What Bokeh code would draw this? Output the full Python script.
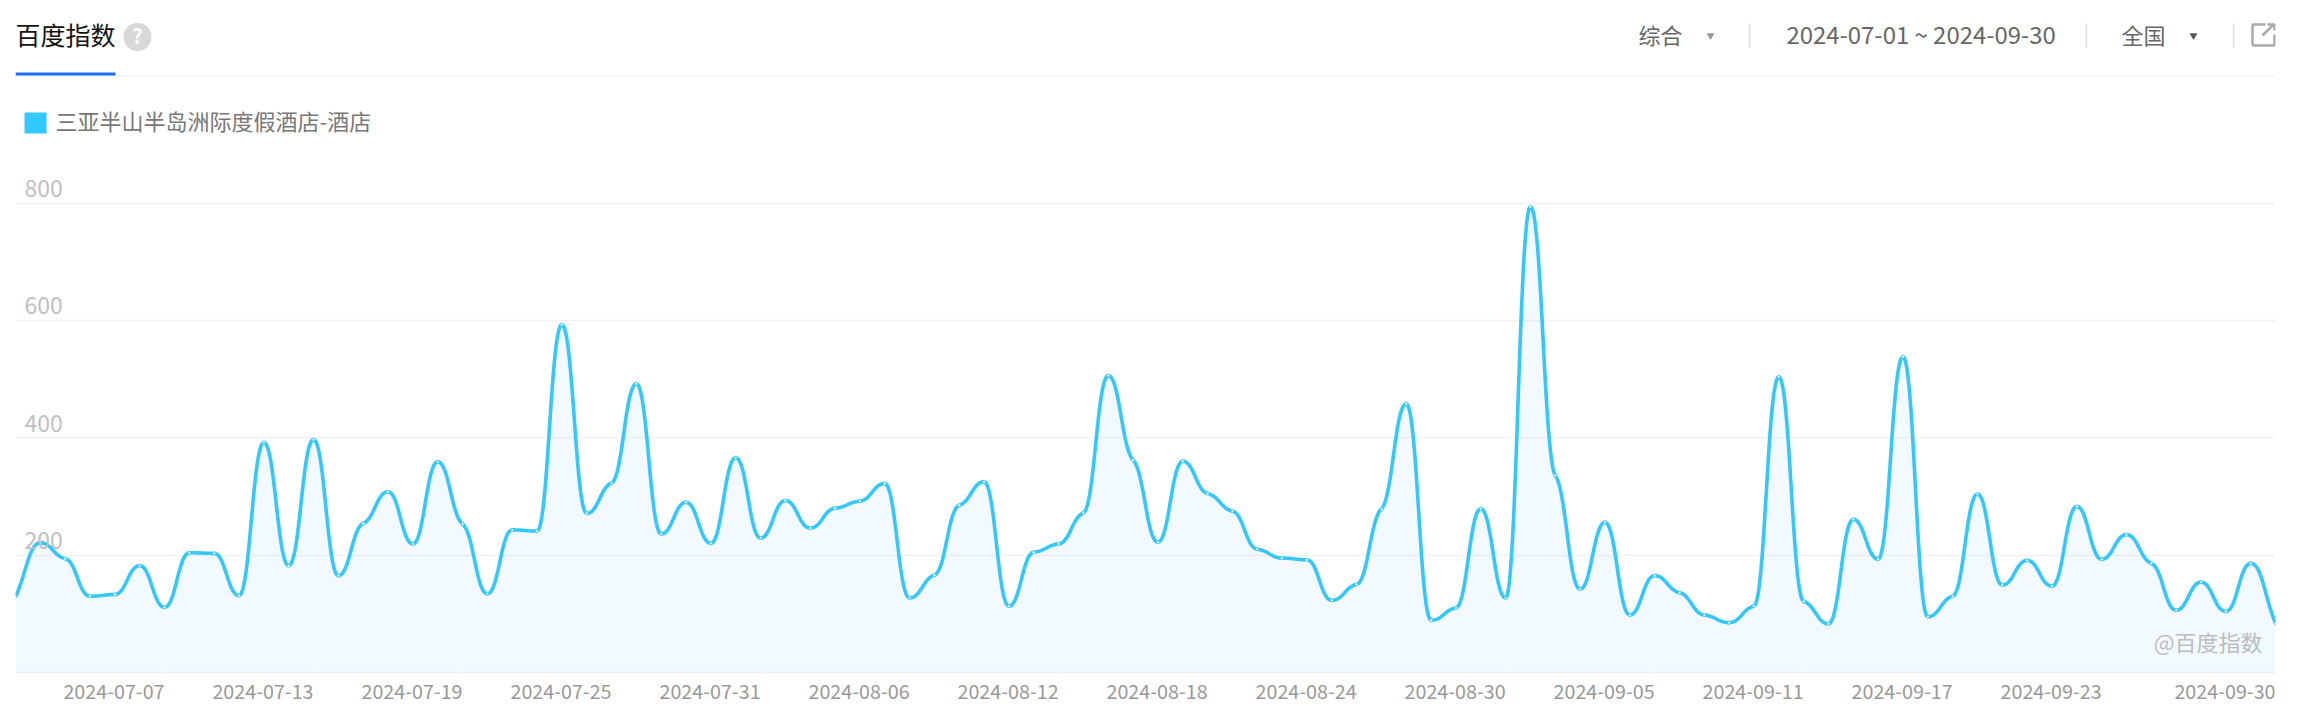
from bokeh.plotting import figure
from bokeh.models import Range1d, FixedTicker, Grid
from bokeh.core.properties import value
from bokeh.embed import file_html
from bokeh.resources import INLINE

title = "百度指数"
legend_label = "三亚半山半岛洲际度假酒店-酒店"
watermark = "@百度指数"
date_span = "2024-07-01 ~ 2024-09-30"
menu_kind = "综合"
menu_area = "全国"

y_ticks = [200, 400, 600, 800]
x_tick_idx = [6, 12, 18, 24, 30, 36, 42, 48, 54, 60, 66, 72, 78, 84, 91]
x_tick_labels = ["2024-07-07", "2024-07-13", "2024-07-19", "2024-07-25", "2024-07-31",
                 "2024-08-06", "2024-08-12", "2024-08-18", "2024-08-24", "2024-08-30",
                 "2024-09-05", "2024-09-11", "2024-09-17", "2024-09-23", "2024-09-30"]

values = [129, 221, 194, 130, 133, 182, 111, 204, 203, 131, 392, 182, 397, 165, 254, 308,
          219, 359, 253, 134, 243, 241, 593, 271, 323, 492, 236, 290, 220, 366, 229, 293,
          246, 280, 292, 322, 127, 166, 285, 325, 113, 205, 219, 272, 506, 362, 222, 360,
          305, 275, 210, 195, 192, 123, 150, 279, 458, 89, 110, 279, 127, 794, 336, 142,
          256, 98, 165, 136, 98, 85, 113, 504, 121, 83, 261, 193, 538, 95, 130, 304,
          149, 191, 147, 283, 193, 235, 186, 106, 154, 104, 186, 84]

LINE = "#36c7f9"
FONT = value("Noto Sans CJK SC")

# page-pixel geometry of the plot
W, H = 2297, 713
PAGE_L, PAGE_R, PAGE_T, PAGE_B = 15, 2275, 0, H
ZERO_Y, TOP_Y = 672, 202.5
per_px = 800 / (ZERO_Y - TOP_Y)
n = len(values) - 1

def X(px):
    return (px - PAGE_L) * n / (PAGE_R - PAGE_L)

def Y(py):
    return (ZERO_Y - py) * per_px

def smooth(ys, handle=0.45, flat=0.3, steps=24):
    """Monotone cubic through the points, sampled for drawing."""
    sl = [ys[i + 1] - ys[i] for i in range(len(ys) - 1)]
    m = [0.0] * len(ys)
    for i in range(1, len(ys) - 1):
        a, b = sl[i - 1], sl[i]
        if a * b > 0:
            s = 1 if a > 0 else -1
            m[i] = s * flat * min(abs(a), abs(b))
    m[0] = sl[0]
    m[-1] = sl[-1]
    xs_out, ys_out = [], []
    for i in range(len(ys) - 1):
        p0x, p0y = i, ys[i]
        p3x, p3y = i + 1, ys[i + 1]
        p1x, p1y = i + handle, ys[i] + m[i] * handle
        p2x, p2y = i + 1 - handle, ys[i + 1] - m[i + 1] * handle
        for k in range(steps):
            t = k / steps
            u = 1 - t
            xs_out.append(u**3 * p0x + 3 * u*u*t * p1x + 3 * u*t*t * p2x + t**3 * p3x)
            ys_out.append(u**3 * p0y + 3 * u*u*t * p1y + 3 * u*t*t * p2y + t**3 * p3y)
    xs_out.append(n)
    ys_out.append(ys[-1])
    return xs_out, ys_out

p = figure(width=W, height=H, output_backend="svg", toolbar_location=None,
           x_range=Range1d(0, n), y_range=Range1d(Y(PAGE_B), Y(PAGE_T)),
           min_border_left=PAGE_L, min_border_right=W - PAGE_R,
           min_border_top=0, min_border_bottom=0, x_axis_type=None, y_axis_type=None)
p.outline_line_color = None
p.background_fill_color = "#ffffff"
p.xgrid.visible = False
p.ygrid.visible = False

grid = Grid(dimension=1, ticker=FixedTicker(ticks=[0] + y_ticks),
            grid_line_color="#f2f2f2", grid_line_width=1.5)
p.add_layout(grid)

sx, sy = smooth(values)
p.varea(x=sx, y1=[0] * len(sx), y2=sy, fill_color="#0a96ff", fill_alpha=0.055)
p.line(sx, sy, line_color=LINE, line_width=3.6)
p.scatter(list(range(len(values))), values, size=3, fill_color="#ffffff",
          line_color=LINE, line_width=0.8)

# notches on the base line
p.segment(x0=x_tick_idx, y0=[0] * len(x_tick_idx), x1=x_tick_idx,
          y1=[Y(ZERO_Y - 2.5)] * len(x_tick_idx), line_color="#ffffff", line_width=1.5)

# axis labels
p.text(x=x_tick_idx, y=[Y(691)] * len(x_tick_idx), text=x_tick_labels, text_align="right",
       text_baseline="middle", text_font=FONT, text_font_size="19.7px", text_color="#999999")
p.text(x=[X(24)] * len(y_ticks), y=[t + Y(ZERO_Y - 14.5) for t in y_ticks],
       text=[str(t) for t in y_ticks], text_align="left", text_baseline="middle",
       text_font=FONT, text_font_size="23px", text_color="#c0c0c0")

# watermark
p.text(x=[X(2262)], y=[Y(640)], text=[watermark], text_align="right", text_baseline="middle",
       text_font=FONT, text_font_size="22px", text_color="#bcbcbc")

# header
p.segment(x0=[X(PAGE_L)], y0=[Y(75.5)], x1=[X(PAGE_R)], y1=[Y(75.5)], line_color="#eeeeee", line_width=1)
p.quad(left=[X(15)], right=[X(115)], top=[Y(72)], bottom=[Y(75)], fill_color="#1f6ff2", line_color=None)
p.text(x=[X(15)], y=[Y(33.5)], text=[title], text_baseline="middle", text_font=FONT,
       text_font_size="25px", text_color="#111111")
p.scatter(x=[X(137)], y=[Y(36.5)], size=28, fill_color="#d8d8d8", line_color=None)
p.text(x=[X(137)], y=[Y(35)], text=["?"], text_align="center", text_baseline="middle",
       text_font=FONT, text_font_size="20px", text_font_style="bold", text_color="#ffffff")

p.text(x=[X(1638), X(2121)], y=[Y(33), Y(33)], text=[menu_kind, menu_area], text_baseline="middle",
       text_font=FONT, text_font_size="22px", text_color="#666666")
p.text(x=[X(1786)], y=[Y(33)], text=[date_span], text_baseline="middle", text_font=FONT,
       text_font_size="23.9px", text_color="#666666")
p.scatter(x=[X(1710)], y=[Y(35)], size=8, marker="inverted_triangle", fill_color="#999999", line_color=None)
p.scatter(x=[X(2193)], y=[Y(35)], size=8, marker="inverted_triangle", fill_color="#555555", line_color=None)
p.segment(x0=[X(1749), X(2086), X(2233)], y0=[Y(23)] * 3, x1=[X(1749), X(2086), X(2233)], y1=[Y(47)] * 3,
          line_color="#dddddd", line_width=1.5)
# share icon
p.line(x=[X(2265), X(2253), X(2252), X(2252), X(2253), X(2273), X(2274), X(2274)],
       y=[Y(24), Y(24), Y(25), Y(44), Y(45), Y(45), Y(44), Y(34)], line_color="#aaaaaa", line_width=2.5)
p.line(x=[X(2262), X(2273)], y=[Y(35), Y(24)], line_color="#aaaaaa", line_width=2.5)
p.line(x=[X(2267), X(2274), X(2274)], y=[Y(24), Y(24), Y(30)], line_color="#aaaaaa", line_width=2.5)

# legend
p.quad(left=[X(24)], right=[X(46)], top=[Y(112)], bottom=[Y(133)], fill_color="#33c8ff", line_color=None)
p.text(x=[X(55)], y=[Y(119.5)], text=[legend_label], text_baseline="middle", text_font=FONT,
       text_font_size="22px", text_color="#777777")

open("out.html", "w").write(file_html(p, INLINE))
